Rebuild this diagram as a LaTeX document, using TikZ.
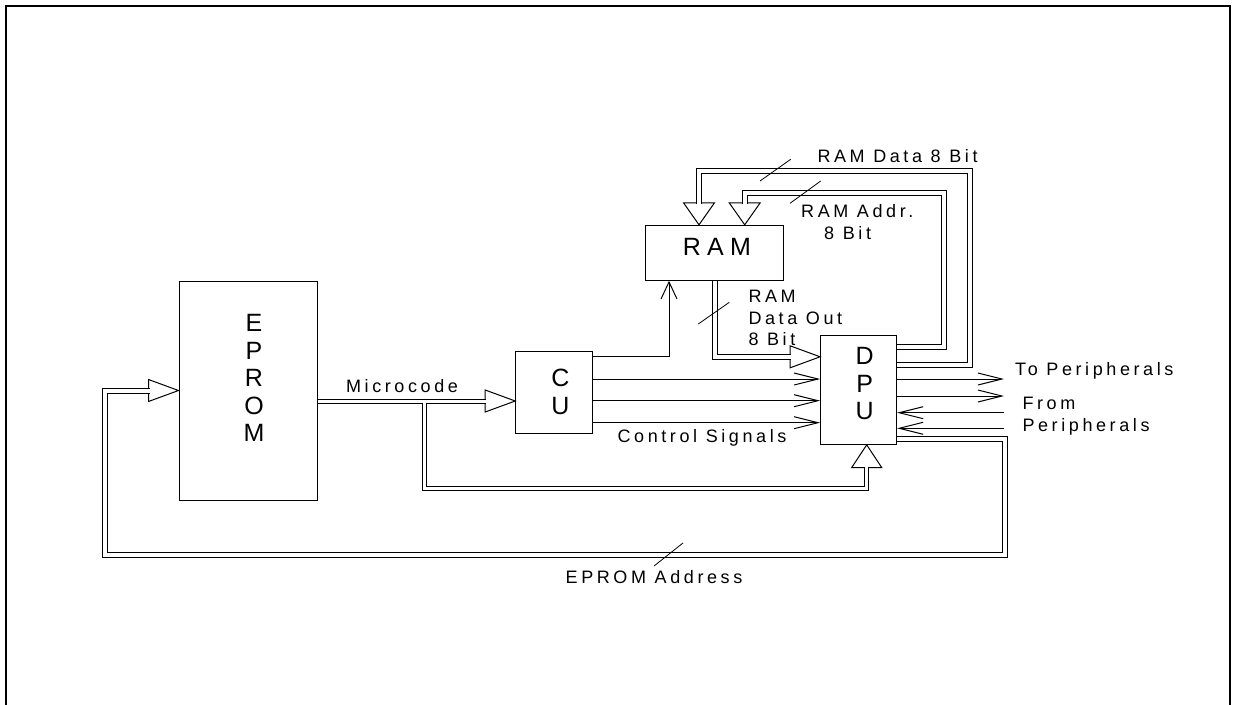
\documentclass[tikz,border=0pt]{standalone}
\usepackage{fontspec}
\setmainfont{Liberation Sans}
\newfontfamily\lblfont{Liberation Sans}[LetterSpace=20]
\newfontfamily\boxfont{Liberation Sans}[LetterSpace=25]
\usetikzlibrary{arrows.meta}

\begin{document}
\begin{tikzpicture}[x=1pt, y=-1pt]
    \tikzstyle{block}=[draw, rectangle, line width=1pt, inner sep=0pt]
    \tikzstyle{bigtxt}=[font=\boxfont\fontsize{25}{27.5}\selectfont, align=center, inner sep=0pt]
    \tikzstyle{lbl}=[font=\lblfont\fontsize{18}{21.5}\selectfont, inner sep=0pt]
    \tikzstyle{bus}=[draw, line width=1pt, double=white, double distance=4pt]
    \tikzstyle{bustip}=[draw, fill=white, line width=1pt, line join=miter]
    \tikzstyle{sig}=[draw, line width=1pt, -{Straight Barb[length=24pt, width=12pt]}]
    \tikzstyle{busmark}=[draw, line width=0.8pt]

    \useasboundingbox (0,0) rectangle (1234,704);
    \draw[line width=2pt] (6,720) -- (6,6) -- (1230,6) -- (1230,720);

    % blocks
    \node[block, minimum width=138pt, minimum height=219pt] (eprom) at (248,390.5) {};
    \node[block, minimum width=77pt, minimum height=82.5pt] (cu) at (554.2,392.7) {};
    \node[block, minimum width=76pt, minimum height=109.3pt] (dpu) at (858.6,389.7) {};
    \node[block, minimum width=138pt, minimum height=55pt] (ram) at (714.6,252.8) {};

    \node[bigtxt] (eprom-txt) at (254,378) {E\\P\\R\\O\\M};
    \node[bigtxt] (cu-txt) at (560.5,392) {C\\U};
    \node[bigtxt] (dpu-txt) at (864.7,384) {D\\P\\U};
    \node[bigtxt] (ram-txt) at (716.8,247) {RAM};

    % ports
    \coordinate (ctip) at ([yshift=-8.3pt]cu.west);
    \coordinate (otip) at ([yshift=32.9pt]dpu.west);
    \coordinate (utip) at ([xshift=8.1pt]dpu.south);
    \coordinate (dtip) at ([xshift=-15.6pt]ram.north);
    \coordinate (atip) at ([xshift=30.1pt]ram.north);
    \coordinate (mcsplit) at (424.6,402.8);
    \coordinate (sig1) at (700,379);
    \coordinate (sig2) at (700,400.7);
    \coordinate (sig3) at (700,422.7);
    \coordinate (to1) at (1004,379);
    \coordinate (to2) at (1004,396);
    \coordinate (from1) at (1004,412.7);
    \coordinate (from2) at (1004,428.3);

    % bus arrow heads
    \draw[bustip] (eprom.west) -- ++(-30,-11) -- ++(0,22) -- cycle;
    \draw[bustip] (ctip) -- ++(-30,-11) -- ++(0,22) -- cycle;
    \draw[bustip] (otip) -- ++(-30,-11) -- ++(0,22) -- cycle;
    \draw[bustip] (dtip) -- ++(-15.5,-22) -- ++(31,0) -- cycle;
    \draw[bustip] (atip) -- ++(-15.5,-22) -- ++(31,0) -- cycle;
    \draw[bustip] (utip) -- ++(-15,22.7) -- ++(30,0) -- cycle;

    % buses
    \draw[bus] ([yshift=24.7pt]dpu.east) -| (969.7,170.5) -| ([yshift=21pt]dtip);
    \draw[bus] ([yshift=42.8pt]dpu.east) -| (943.7,192.5) -| ([yshift=21pt]atip);
    \draw[bus] (ram.south) |- ([xshift=-29pt]otip);
    \draw[bus, double distance=3pt] (eprom.east |- ctip) -- ([xshift=-29pt]ctip);
    \draw[bus, double distance=3pt] (mcsplit) |- (utip |- 0,488.5) -- ([yshift=-21.7pt]utip);
    \draw[bus] ([yshift=-49.5pt]dpu.east) -| (1004.7,554.5) -| (105,390.5) -- ([xshift=-29pt]eprom.west);

    % control signals
    \draw[sig] (cu.east |- sig1) -- (dpu.west |- sig1);
    \draw[sig] (cu.east |- sig2) -- (dpu.west |- sig2);
    \draw[sig] (cu.east |- sig3) -- (dpu.west |- sig3);
    \draw[sig, -{Straight Barb[length=17pt, width=16pt]}] ([yshift=36pt]cu.east) -| ([xshift=-45.6pt]ram.south);

    % peripherals
    \draw[sig] (dpu.east |- to1) -- (to1);
    \draw[sig] (dpu.east |- to2) -- (to2);
    \draw[sig] (from1) -- (dpu.east |- from1);
    \draw[sig] (from2) -- (dpu.east |- from2);

    % bus width marks
    \draw[busmark] (760,181) -- (790.7,159.3);
    \draw[busmark] (790,203.3) -- (820.7,181);
    \draw[busmark] (698.3,324) -- (729.3,302.3);
    \draw[busmark] (683,543) -- (654,566);

    % labels
    \node[lbl, anchor=west] (data-lbl) at (817.3,155.7) {RAM Data 8 Bit};
    \node[lbl, anchor=west, align=left] (addr-lbl) at (801,222) {RAM Addr.\\\hspace*{23pt}8 Bit};
    \node[lbl, anchor=west, align=left] (out-lbl) at (748.3,317.9) {RAM\\Data Out\\8 Bit};
    \node[lbl] (mc-lbl) at (402,386) {Microcode};
    \node[lbl] (cs-lbl) at (702,437.5) {Control Signals};
    \node[lbl, anchor=west] (to-lbl) at (1015,371) {To Peripherals};
    \node[lbl, anchor=west, align=left] (from-lbl) at (1022.3,416.4) {From\\Peripherals};
    \node[lbl] (ea-lbl) at (654,577) {EPROM Address};
\end{tikzpicture}
\end{document}
